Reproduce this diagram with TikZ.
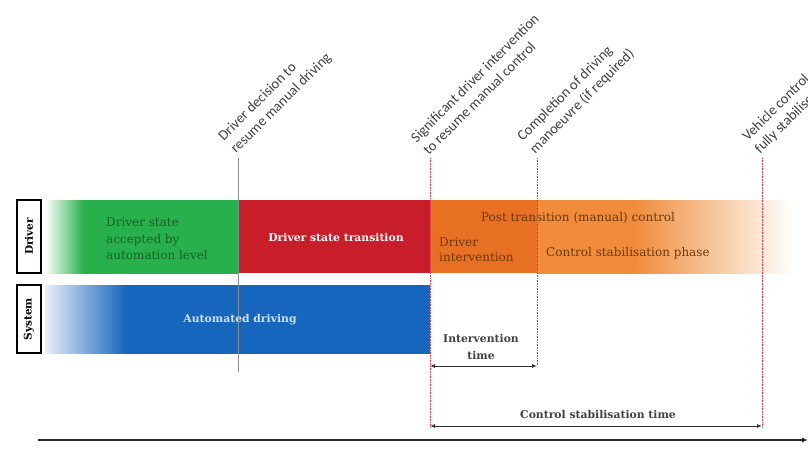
\documentclass[tikz,border=0pt]{standalone}
\usepackage{fontspec}
\newfontfamily\eventfont{Carlito}
\newfontfamily\barfont{DejaVu Serif}
\usetikzlibrary{arrows.meta}

\definecolor{barGreen}{RGB}{40,176,76}
\definecolor{barRed}{RGB}{200,30,42}
\definecolor{barBlue}{RGB}{22,102,190}
\definecolor{barBlueLt}{RGB}{232,238,250}
\definecolor{barOrangeDk}{RGB}{232,112,34}
\definecolor{barOrange}{RGB}{240,140,58}
\definecolor{txtGreen}{RGB}{24,96,40}
\definecolor{txtBrown}{RGB}{110,56,16}
\definecolor{txtBlue}{RGB}{205,225,248}
\definecolor{evRed}{RGB}{220,60,70}

% bar fades (path box is mapped to 25bp..75bp)
\pgfdeclarehorizontalshading{greenfade}{100bp}{color(0bp)=(white); color(25bp)=(white);
  color(35bp)=(barGreen); color(100bp)=(barGreen)}
\pgfdeclarehorizontalshading{bluefade}{100bp}{color(0bp)=(barBlueLt); color(25bp)=(barBlueLt);
  color(35.5bp)=(barBlue); color(100bp)=(barBlue)}
\pgfdeclarehorizontalshading{orangefade}{100bp}{color(0bp)=(barOrange); color(44bp)=(barOrange);
  color(75bp)=(white); color(100bp)=(white)}

\begin{document}
\begin{tikzpicture}[x=1pt,y=-1pt,
  lane/.style={draw=black,line width=1.1pt,rotate=90,font=\barfont\bfseries\fontsize{10.5}{12}\selectfont,
    minimum height=24pt,inner sep=0pt},
  bartext/.style={font=\barfont\fontsize{12}{16.5}\selectfont,inner sep=0pt},
  boldtext/.style={bartext,font=\barfont\bfseries\fontsize{10.8}{17}\selectfont},
  evtext/.style={rotate=45,anchor=south west,align=left,inner sep=0pt,
    font=\eventfont\fontsize{14.5}{17.5}\selectfont,text=black!75},
  evline/.style={densely dotted,evRed,line width=0.6pt},
  dimarrow/.style={{Latex[length=5pt,width=4pt]}-{Latex[length=5pt,width=4pt]},line width=0.9pt,black!80}]
\useasboundingbox (0,0) rectangle (808,450);
\clip (0,0) rectangle (808,450);

% lanes
\node[lane,minimum width=73pt] at (29,236.5) (drv) {Driver};
\node[lane,minimum width=68pt] at (29,319) (sys) {System};

% driver bar
\shade[shading=greenfade] (45,200) rectangle (238,273);
\fill[barRed] (238,200) rectangle (430,273);
\fill[barOrangeDk] (430,200) rectangle (537,273);
\shade[shading=orangefade] (537,200) rectangle (792,273);

% system bar
\shade[shading=bluefade] (45,285) rectangle (430,353);

\node[bartext,anchor=west,align=left,text=txtGreen] at (106,239) (accepted)
  {Driver state\\accepted by\\automation level};
\node[boldtext,text=white] at (336,237) (transition) {Driver state transition};
\node[bartext,text=txtBrown] at (578,218) (post) {Post transition (manual) control};
\node[bartext,anchor=west,align=left,text=txtBrown,font=\barfont\fontsize{12}{15}\selectfont] at (439,250) (interv)
  {Driver\\intervention};
\node[bartext,anchor=west,text=txtBrown] at (546,253) (stabphase) {Control stabilisation phase};
\node[boldtext,text=txtBlue] at (240,320) (auto) {Automated driving};

% events
\coordinate (e1) at (238,158);
\coordinate (e1b) at (238,372);
\coordinate (e2) at (430,158);
\coordinate (e2b) at (430,428);
\coordinate (e3) at (537,158);
\coordinate (e3b) at (537,366);
\coordinate (e4) at (762,158);
\coordinate (e4b) at (762,428);
\draw[black!45,line width=0.6pt] (e1) -- (e1b);
\draw[evline] (e2) -- (e2b);
\draw[evline] (e3) -- (e3b);
\draw[evline] (e4) -- (e4b);

\node[evtext] at ([yshift=2pt]e1) (ev1) {Driver decision to\\resume manual driving};
\node[evtext] at ([xshift=-1pt,yshift=2pt]e2) (ev2) {Significant driver intervention\\to resume manual control};
\node[evtext] at ([yshift=2pt]e3) (ev3) {Completion of driving\\manoeuvre (if required)};
\node[evtext] at ([yshift=2pt]e4) (ev4) {Vehicle control\\fully stabilised};

% durations
\coordinate (it1) at (430,366);
\coordinate (it2) at (537,366);
\draw[dimarrow] (it1) -- (it2);
\node[boldtext,align=center,text=black!75] at (481,347) (ittext) {Intervention\\time};
\coordinate (st1) at (430,426);
\coordinate (st2) at (762,426);
\draw[dimarrow] (st1) -- (st2);
\node[boldtext,text=black!75] at (598,414) (sttext) {Control stabilisation time};

% time axis
\coordinate (t0) at (38,440);
\coordinate (t1) at (808,440);
\draw[-{Latex[length=6pt,width=5pt]},line width=1.1pt,black!85] (t0) -- (t1);
\end{tikzpicture}
\end{document}
